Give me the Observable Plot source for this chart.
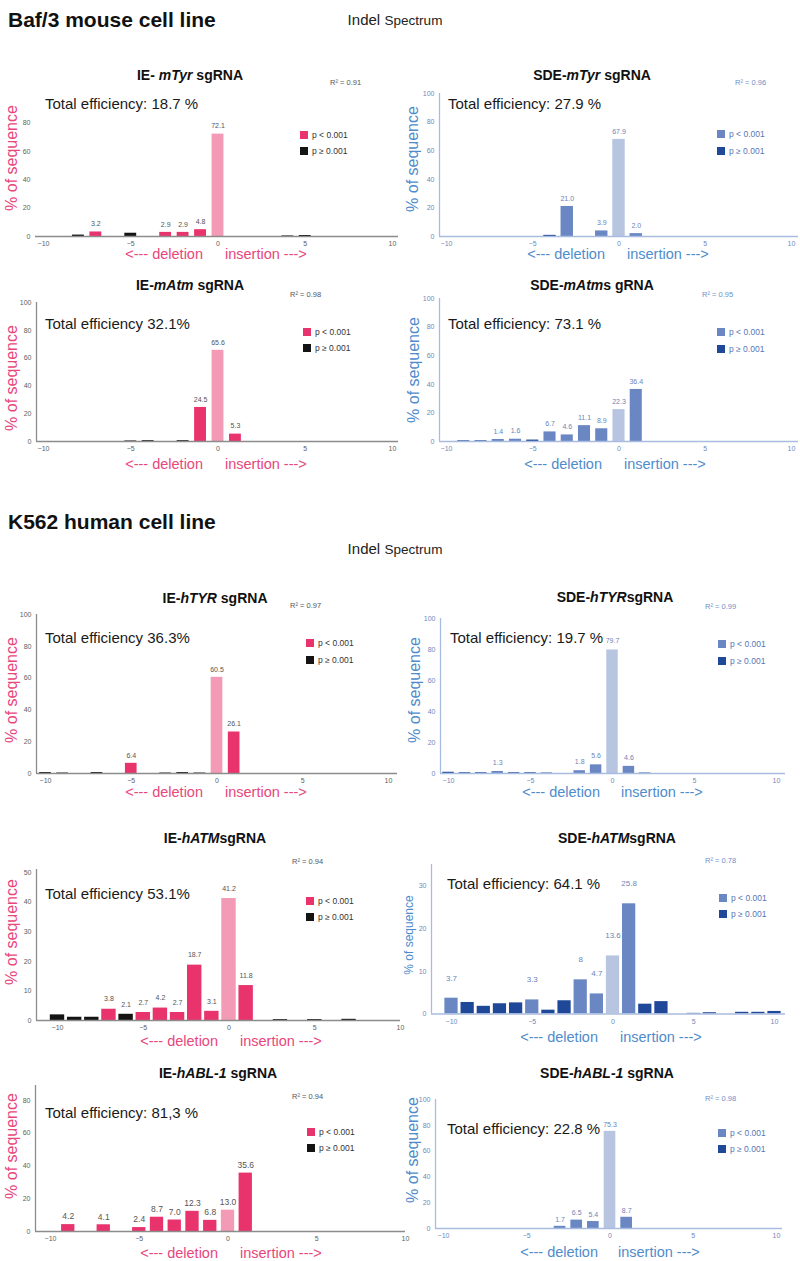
<!DOCTYPE html>
<html><head><meta charset="utf-8">
<script src="https://cdn.jsdelivr.net/npm/d3@7"></script>
<script src="https://cdn.jsdelivr.net/npm/@observablehq/plot@0.6"></script>
<style>
body{margin:0;background:#fff;font-family:"Liberation Sans",Arial,sans-serif;}
#root{position:relative;width:800px;height:1261px;overflow:hidden;background:#fff;}
.t{position:absolute;white-space:nowrap;line-height:1;}
svg{overflow:visible;}
</style></head><body><div id="root"></div>
<script>
// ---------- shared tick labels / categories ----------
const xTicks = [-10, -5, 0, 5, 10];
const yTicks0to80 = [0, 20, 40, 60, 80];
const yTicks0to100 = [0, 20, 40, 60, 80, 100];
const yTicks0to50 = [0, 10, 20, 30, 40, 50];
const yTicks0to30 = [0, 10, 20, 30];
const legendNames = ["p < 0.001", "p ≥ 0.001"];
const delText = "<--- deletion";
const insText = "insertion --->";

// ---------- Baf/3 mouse: IE-mTyr ----------
const ieMTyrPos = [-8, -7, -5, -3, -2, -1, 0, 4, 5];
const ieMTyrVal = [1.0, 3.2, 2.3, 2.9, 2.9, 4.8, 72.1, 0.4, 0.7];
const ieMTyrSig = ["n", "s", "n", "s", "s", "s", "w", "n", "n"];
const ieMTyrLab = ["", "3.2", "", "2.9", "2.9", "4.8", "72.1", "", ""];
// SDE-mTyr
const sdeMTyrPos = [-4, -3, -1, 0, 1];
const sdeMTyrVal = [0.8, 21.0, 3.9, 67.9, 2.0];
const sdeMTyrSig = ["n", "s", "s", "w", "s"];
const sdeMTyrLab = ["", "21.0", "3.9", "67.9", "2.0"];
// IE-mAtm
const ieMAtmPos = [-5, -4, -2, -1, 0, 1];
const ieMAtmVal = [0.4, 0.6, 0.6, 24.5, 65.6, 5.3];
const ieMAtmSig = ["n", "n", "n", "s", "w", "s"];
const ieMAtmLab = ["", "", "", "24.5", "65.6", "5.3"];
// SDE-mAtm
const sdeMAtmPos = [-9, -8, -7, -6, -5, -4, -3, -2, -1, 0, 1];
const sdeMAtmVal = [0.5, 0.5, 1.4, 1.6, 1.0, 6.7, 4.6, 11.1, 8.9, 22.3, 36.4];
const sdeMAtmSig = ["n", "n", "s", "s", "n", "s", "s", "s", "s", "w", "s"];
const sdeMAtmLab = ["", "", "1.4", "1.6", "", "6.7", "4.6", "11.1", "8.9", "22.3", "36.4"];

// ---------- K562 human: IE-hTYR ----------
const ieHTyrPos = [-10, -9, -7, -5, -3, -2, -1, 0, 1];
const ieHTyrVal = [0.6, 0.3, 0.6, 6.4, 0.3, 0.6, 0.3, 60.5, 26.1];
const ieHTyrSig = ["n", "n", "n", "s", "n", "n", "n", "w", "s"];
const ieHTyrLab = ["", "", "", "6.4", "", "", "", "60.5", "26.1"];
// SDE-hTYR
const sdeHTyrPos = [-10, -9, -8, -7, -6, -5, -4, -2, -1, 0, 1, 2];
const sdeHTyrVal = [0.8, 0.5, 0.5, 1.3, 0.5, 0.5, 0.3, 1.8, 5.6, 79.7, 4.6, 0.3];
const sdeHTyrSig = ["n", "n", "n", "s", "n", "n", "n", "s", "s", "w", "s", "n"];
const sdeHTyrLab = ["", "", "", "1.3", "", "", "", "1.8", "5.6", "79.7", "4.6", ""];
// IE-hATM
const ieHAtmPos = [-10, -9, -8, -7, -6, -5, -4, -3, -2, -1, 0, 1, 3, 5, 7];
const ieHAtmVal = [1.9, 1.1, 1.1, 3.8, 2.1, 2.7, 4.2, 2.7, 18.7, 3.1, 41.2, 11.8, 0.3, 0.3, 0.4];
const ieHAtmSig = ["n", "n", "n", "s", "n", "s", "s", "s", "s", "s", "w", "s", "n", "n", "n"];
const ieHAtmLab = ["", "", "", "3.8", "2.1", "2.7", "4.2", "2.7", "18.7", "3.1", "41.2", "11.8", "", "", ""];
// SDE-hATM
const sdeHAtmPos = [-10, -9, -8, -7, -6, -5, -4, -3, -2, -1, 0, 1, 2, 3, 5, 6, 8, 9, 10];
const sdeHAtmVal = [3.7, 2.7, 1.8, 2.4, 2.6, 3.3, 0.9, 3.1, 8.0, 4.7, 13.6, 25.8, 2.3, 2.9, 0.15, 0.3, 0.4, 0.4, 0.6];
const sdeHAtmSig = ["s", "n", "n", "n", "n", "s", "n", "n", "s", "s", "w", "s", "n", "n", "n", "n", "n", "n", "n"];
const sdeHAtmLab = ["3.7", "", "", "", "", "3.3", "", "", "8", "4.7", "13.6", "25.8", "", "", "", "", "", "", ""];
// IE-hABL-1
const ieHAblPos = [-9, -7, -5, -4, -3, -2, -1, 0, 1];
const ieHAblVal = [4.2, 4.1, 2.4, 8.7, 7.0, 12.3, 6.8, 13.0, 35.6];
const ieHAblSig = ["s", "s", "s", "s", "s", "s", "s", "w", "s"];
const ieHAblLab = ["4.2", "4.1", "2.4", "8.7", "7.0", "12.3", "6.8", "13.0", "35.6"];
// SDE-hABL-1
const sdeHAblPos = [-3, -2, -1, 0, 1];
const sdeHAblVal = [1.7, 6.5, 5.4, 75.3, 8.7];
const sdeHAblSig = ["s", "s", "s", "w", "s"];
const sdeHAblLab = ["1.7", "6.5", "5.4", "75.3", "8.7"];

// ---------- styling ----------
const COLORS = {
  ie:  {s: "#e8336d", n: "#141414", w: "#f29ab6", text: "#e8467c", axis: "#8c8c8c", tick: "#5e5e5e", r2: "#555", leg: "#333", lab: "#555"},
  sde: {s: "#6a87c3", n: "#1f4898", w: "#b7c5e1", text: "#4f8ccc", axis: "#a8bbe0", tick: "#6f88bd", r2: "#6d8fc9", leg: "#5676b5", lab: "#6d84b8"}
};

function rows(pos, val, sig, lab) {
  return pos.map((p, i) => ({pos: p, val: val[i], sig: sig[i], lab: lab[i]}));
}

const panels = [
  {data: rows(ieMTyrPos, ieMTyrVal, ieMTyrSig, ieMTyrLab), col: 0, scheme: "ie", yAxisX: 35, xEnd: 398, x0px: 43, x1px: 392, yTop: 94, yTopVal: 100, y0: 236, yTicks: yTicks0to80, yLine: false, barW: 0.68, labelDy: -8, labelSize: 7,
   title: ["IE- ", "mTyr", " sgRNA"], tx: 190, ty: 75, r2: "0.91", r2x: 330, r2y: 83, eff: "Total efficiency: 18.7 %", ex: 45, ey: 103, lx: 300, ly1: 131, ly2: 147, sx: 12, sy: 158, seqSize: 16, delR: 203, insL: 225, delY: 254},
  {data: rows(sdeMTyrPos, sdeMTyrVal, sdeMTyrSig, sdeMTyrLab), col: 400, scheme: "sde", yAxisX: 439, xEnd: 798, x0px: 446, x1px: 791, yTop: 93, yTopVal: 100, y0: 236, yTicks: yTicks0to100, yLine: true, barW: 0.72, labelDy: -8, labelSize: 7,
   title: ["SDE-", "mTyr", " sgRNA"], tx: 592, ty: 75, r2: "0.96", r2x: 735, r2y: 83, eff: "Total efficiency: 27.9 %", ex: 448, ey: 103, lx: 717, ly1: 130, ly2: 147, sx: 413, sy: 159, seqSize: 16, delR: 605, insL: 627, delY: 254},
  {data: rows(ieMAtmPos, ieMAtmVal, ieMAtmSig, ieMAtmLab), col: 0, scheme: "ie", yAxisX: 36, xEnd: 398, x0px: 43, x1px: 392, yTop: 302, yTopVal: 100, y0: 441, yTicks: yTicks0to100, yLine: true, barW: 0.68, labelDy: -8, labelSize: 7,
   title: ["IE-", "mAtm", " sgRNA"], tx: 190, ty: 285, r2: "0.98", r2x: 290, r2y: 295, eff: "Total efficiency 32.1%", ex: 45, ey: 323, lx: 303, ly1: 328, ly2: 344, sx: 12, sy: 378, seqSize: 16, delR: 203, insL: 225, delY: 464},
  {data: rows(sdeMAtmPos, sdeMAtmVal, sdeMAtmSig, sdeMAtmLab), col: 400, scheme: "sde", yAxisX: 439, xEnd: 798, x0px: 446, x1px: 791, yTop: 298, yTopVal: 100, y0: 441, yTicks: yTicks0to100, yLine: true, barW: 0.7, labelDy: -8, labelSize: 7,
   title: ["SDE-", "mAtm", "s gRNA"], tx: 592, ty: 285, r2: "0.95", r2x: 702, r2y: 295, eff: "Total efficiency: 73.1 %", ex: 448, ey: 323, lx: 717, ly1: 328, ly2: 345, sx: 414, sy: 370, seqSize: 16, delR: 602, insL: 624, delY: 464},
  {data: rows(ieHTyrPos, ieHTyrVal, ieHTyrSig, ieHTyrLab), col: 0, scheme: "ie", yAxisX: 36, xEnd: 397, x0px: 45, x1px: 388, yTop: 614, yTopVal: 100, y0: 773, yTicks: yTicks0to100, yLine: true, barW: 0.68, labelDy: -8, labelSize: 7,
   title: ["IE-", "hTYR", " sgRNA"], tx: 215, ty: 598, r2: "0.97", r2x: 290, r2y: 606, eff: "Total efficiency 36.3%", ex: 45, ey: 637, lx: 306, ly1: 639, ly2: 656, sx: 12, sy: 690, seqSize: 16, delR: 203, insL: 225, delY: 792},
  {data: rows(sdeHTyrPos, sdeHTyrVal, sdeHTyrSig, sdeHTyrLab), col: 400, scheme: "sde", yAxisX: 440, xEnd: 785, x0px: 448, x1px: 776, yTop: 618, yTopVal: 100, y0: 773, yTicks: yTicks0to100, yLine: true, barW: 0.7, labelDy: -9, labelSize: 7,
   title: ["SDE-", "hTYR", "sgRNA"], tx: 615, ty: 597, r2: "0.99", r2x: 705, r2y: 607, eff: "Total efficiency: 19.7 %", ex: 450, ey: 637, lx: 718, ly1: 640, ly2: 657, sx: 415, sy: 690, seqSize: 16, delR: 600, insL: 621, delY: 792},
  {data: rows(ieHAtmPos, ieHAtmVal, ieHAtmSig, ieHAtmLab), col: 0, scheme: "ie", yAxisX: 36, xEnd: 400, x0px: 57, x1px: 400, yTop: 869, yTopVal: 51, y0: 1020, yTicks: yTicks0to50, yLine: true, barW: 0.84, labelDy: -10, labelSize: 7,
   title: ["IE-", "hATM", "sgRNA"], tx: 215, ty: 838, r2: "0.94", r2x: 292, r2y: 862, eff: "Total efficiency 53.1%", ex: 45, ey: 893, lx: 306, ly1: 897, ly2: 913, sx: 12, sy: 932, seqSize: 16, delR: 218, insL: 240, delY: 1041},
  {data: rows(sdeHAtmPos, sdeHAtmVal, sdeHAtmSig, sdeHAtmLab), col: 400, scheme: "sde", yAxisX: 431, xEnd: 785, x0px: 451, x1px: 774, yTop: 863.5, yTopVal: 35, y0: 1013, yTicks: yTicks0to30, yLine: true, barW: 0.82, labelDy: -20, labelSize: 8,
   title: ["SDE-", "hATM", "sgRNA"], tx: 617, ty: 838, r2: "0.78", r2x: 705, r2y: 861, eff: "Total efficiency: 64.1 %", ex: 447, ey: 883, lx: 719, ly1: 894, ly2: 910, sx: 409, sy: 935, seqSize: 12, delR: 598, insL: 620, delY: 1037},
  {data: rows(ieHAblPos, ieHAblVal, ieHAblSig, ieHAblLab), col: 0, scheme: "ie", yAxisX: 35, xEnd: 405, x0px: 50, x1px: 405, yTop: 1085, yTopVal: 89, y0: 1231, yTicks: yTicks0to80, yLine: true, barW: 0.75, labelDy: -8, labelSize: 8.5,
   title: ["IE-", "hABL-1", " sgRNA"], tx: 218, ty: 1073, r2: "0.94", r2x: 292, r2y: 1097, eff: "Total efficiency: 81,3 %", ex: 45, ey: 1112, lx: 307, ly1: 1128, ly2: 1144, sx: 12, sy: 1146, seqSize: 16, delR: 218, insL: 240, delY: 1253},
  {data: rows(sdeHAblPos, sdeHAblVal, sdeHAblSig, sdeHAblLab), col: 400, scheme: "sde", yAxisX: 435, xEnd: 782, x0px: 443, x1px: 776, yTop: 1099, yTopVal: 100, y0: 1228, yTicks: yTicks0to100, yLine: true, barW: 0.7, labelDy: -7, labelSize: 7,
   title: ["SDE-", "hABL-1", " sgRNA"], tx: 607, ty: 1073, r2: "0.98", r2x: 705, r2y: 1099, eff: "Total efficiency: 22.8 %", ex: 447, ey: 1128, lx: 718, ly1: 1129, ly2: 1145, sx: 413, sy: 1150, seqSize: 16, delR: 598, insL: 618, delY: 1252}
];

const root = document.getElementById("root");

function txt(content, x, y, style, anchor, isHtml) {
  const d = document.createElement("div");
  d.className = "t";
  if (isHtml) d.innerHTML = content; else d.textContent = content;
  d.style.left = x + "px";
  d.style.top = y + "px";
  const tx = anchor === "middle" ? "-50%" : anchor === "end" ? "-100%" : "0";
  d.style.transform = `translate(${tx}, -50%)` + (style.rotate ? " rotate(-90deg)" : "");
  for (const k in style) if (k !== "rotate") d.style[k] = style[k];
  root.appendChild(d);
  return d;
}

function makePlot(L) {
  const pal = COLORS[L.scheme];
  const W = Math.max(400, L.xEnd - L.col + 12);
  const top = L.yTop - 6;
  const H = L.y0 + 24 - top;
  const pxPerUnit = (L.x1px - L.x0px) / 20;
  const xFrameLeft = -10 - (L.x0px - L.yAxisX) / pxPerUnit;
  const marks = [
    Plot.rectY(L.data, {x1: d => d.pos - L.barW / 2, x2: d => d.pos + L.barW / 2, y1: 0, y2: "val", fill: d => pal[d.sig]}),
    Plot.ruleY([0], {stroke: pal.axis, strokeWidth: 1.3}),
    Plot.axisX({ticks: xTicks, tickSize: 0, tickPadding: 5, fontSize: 7, color: pal.tick, label: null}),
    Plot.axisY({ticks: L.yTicks, tickSize: 0, tickPadding: 5, fontSize: 7, color: pal.tick, label: null}),
    Plot.text(L.data.filter(d => d.lab), {x: "pos", y: "val", text: "lab", dy: L.labelDy, fontSize: L.labelSize, fill: pal.lab})
  ];
  if (L.yLine) marks.push(Plot.ruleX([xFrameLeft], {y1: 0, y2: L.yTopVal, stroke: pal.axis, strokeWidth: 1.3}));
  const svg = Plot.plot({
    width: W, height: H,
    marginLeft: L.yAxisX - L.col,
    marginRight: L.col + W - L.xEnd,
    marginTop: L.yTop - top,
    marginBottom: top + H - L.y0,
    x: {domain: [-10, 10], insetLeft: L.x0px - L.yAxisX, insetRight: L.xEnd - L.x1px},
    y: {domain: [0, L.yTopVal]},
    style: {fontFamily: '"Liberation Sans", Arial, sans-serif', background: "transparent", overflow: "visible"},
    marks
  });
  svg.style.position = "absolute";
  svg.style.left = L.col + "px";
  svg.style.top = top + "px";
  root.appendChild(svg);
}

// headers
const hdr = {fontSize: "21px", fontWeight: "bold", color: "#111"};
txt("Baf/3 mouse cell line", 8, 19, hdr, "start");
txt('<span style="font-size:15px">Indel</span> <span style="font-size:13.5px">Spectrum</span>', 395, 20, {color: "#222"}, "middle", true);
txt("K562 human cell line", 8, 521, hdr, "start");
txt('<span style="font-size:15px">Indel</span> <span style="font-size:13.5px">Spectrum</span>', 395, 549, {color: "#222"}, "middle", true);

for (const L of panels) {
  makePlot(L);
  const pal = COLORS[L.scheme];
  txt(`${L.title[0]}<i>${L.title[1]}</i>${L.title[2]}`, L.tx, L.ty, {fontSize: "14px", fontWeight: "bold", color: "#111"}, "middle", true);
  txt(`R² = ${L.r2}`, L.r2x, L.r2y, {fontSize: "7.5px", color: pal.r2}, "start");
  txt(L.eff, L.ex, L.ey, {fontSize: "15px", color: "#1a1a1a"}, "start");
  // legend
  [L.ly1, L.ly2].forEach((ly, i) => {
    const sq = document.createElement("div");
    sq.style.cssText = `position:absolute;left:${L.lx}px;top:${ly}px;width:8px;height:8px;background:${i === 0 ? pal.s : pal.n};`;
    root.appendChild(sq);
    txt(legendNames[i], L.lx + 12, ly + 4, {fontSize: "8.5px", color: pal.leg}, "start");
  });
  txt("% of sequence", L.sx, L.sy, {fontSize: L.seqSize + "px", color: pal.text, rotate: true}, "middle");
  txt(delText, L.delR, L.delY, {fontSize: "14.5px", color: pal.text}, "end");
  txt(insText, L.insL, L.delY, {fontSize: "14.5px", color: pal.text}, "start");
}
</script></body></html>
